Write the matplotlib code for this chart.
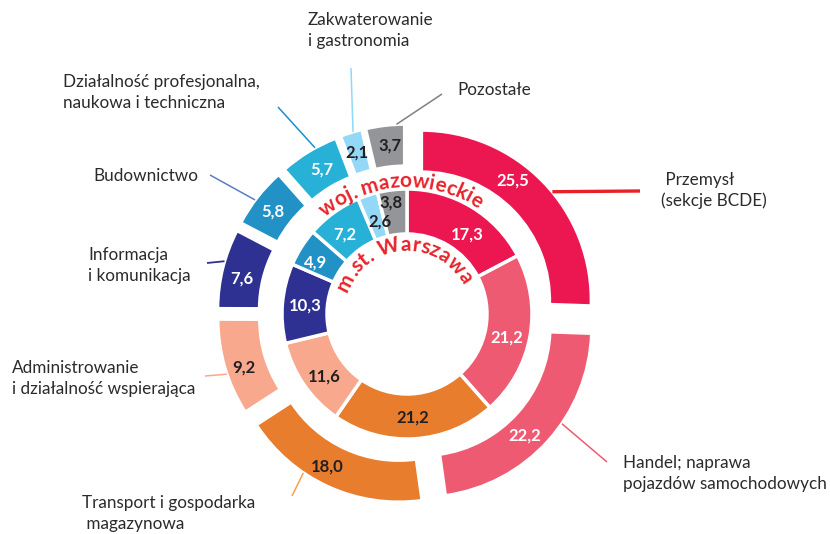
import numpy as np
import matplotlib
matplotlib.use('Agg')
from matplotlib import pyplot as plt
from matplotlib.font_manager import FontProperties
from matplotlib.textpath import TextToPath

# dane: udzial sekcji (%) - zewnetrzny pierscien woj. mazowieckie, wewnetrzny m.st. Warszawa
categories = ['Przemysł\n(sekcje BCDE)', 'Handel; naprawa\npojazdów samochodowych',
              'Transport i gospodarka\n magazynowa', 'Administrowanie\ni działalność wspierająca',
              'Informacja\ni komunikacja', 'Budownictwo',
              'Działalność profesjonalna,\nnaukowa i techniczna', 'Zakwaterowanie\ni gastronomia',
              'Pozostałe']
mazowieckie = [25.5, 22.2, 18.0, 9.2, 7.6, 5.8, 5.7, 2.1, 3.7]
warszawa = [17.3, 21.2, 21.2, 11.6, 10.3, 4.9, 7.2, 2.6, 3.8]

colors = ['#EC1751', '#EF5A73', '#E77D2D', '#F8A98D', '#2E3192',
          '#2191C6', '#27B1D7', '#93D9F7', '#939598']
dark_text = [False, False, True, True, False, False, False, True, True]
line_colors = ['#E8202A', '#EF5A73', '#F4A04E', '#F8A98D', '#2E3192',
               '#5B7EC2', '#1A8FD0', '#8ED8F8', '#808080']

W, H = 830, 534
cx, cy = 407, H - 314

fig = plt.figure(figsize=(W / 100, H / 100), dpi=100)
ax = fig.add_axes([0, 0, 1, 1])

# pierscien zewnetrzny (rozsuniety) i wewnetrzny
outer, _ = ax.pie(mazowieckie, radius=170, center=(cx, cy), startangle=90, counterclock=False,
                  explode=[20] * len(mazowieckie), colors=colors,
                  wedgeprops=dict(width=42, edgecolor='white', linewidth=2.5))
inner, _ = ax.pie(warszawa, radius=125, center=(cx, cy), startangle=90, counterclock=False,
                  colors=colors, wedgeprops=dict(width=45, edgecolor='white', linewidth=2.5))
ax.set_xlim(0, W)
ax.set_ylim(0, H)
ax.set_aspect('equal')
ax.axis('off')

num_font = dict(family='Lato', weight='bold', fontsize=12)

# przesuniecia etykiet liczbowych (stopnie, piksele)
outer_da = [8.6, -4.5, -3.4, 2.1, 1.9, 0.7, -0.7, 0, -1.1]
outer_dr = [2, 0, 3, 3, 0, 0, -1, 0, 0]
inner_da = [-6.1, -3.1, 0, 2.6, 0, 2.9, 2.1, -2, 1.6]
inner_dr = [-3, 0, 1, 1, 0, 2, -2, -6, 10]


def fmt(v):
    return ('%.1f' % v).replace('.', ',')


def put_values(wedges, vals, da, dr):
    for i, (wd, v) in enumerate(zip(wedges, vals)):
        a = np.radians((wd.theta1 + wd.theta2) / 2 + da[i])
        r = wd.r - wd.width / 2 + dr[i]
        x = wd.center[0] + r * np.cos(a)
        y = wd.center[1] + r * np.sin(a)
        ax.text(x, y, fmt(v), ha='center', va='center',
                color='#231F20' if dark_text[i] else 'white', **num_font)


put_values(outer, mazowieckie, outer_da, outer_dr)
put_values(inner, warszawa, inner_da, inner_dr)

# linie odniesienia i opisy (wspolrzedne obrazu: x, y od gory)
lead_offset = [-4.4, 7.5, -9.6, 2.3, -2.5, 1.3, -2.5, -0.7, -3.9]
lead_end = [(640, 191), (607, 462), (292, 496), (205, 376), (207, 263),
            (210, 175), (278, 107), (351, 68), (442, 94)]
lead_width = [2.4, 1.1, 1.1, 1.1, 1.3, 1.1, 1.1, 1.1, 1.1]
label_pos = [(661, 190.5), (623, 473.5), (82, 513.5), (12, 378.5), (88, 265.5),
             (93, 176), (63, 92.5), (308, 30.5), (457, 90)]

for i, wd in enumerate(outer):
    a = np.radians((wd.theta1 + wd.theta2) / 2 + lead_offset[i])
    x0 = wd.center[0] + wd.r * np.cos(a)
    y0 = wd.center[1] + wd.r * np.sin(a)
    ex, ey = lead_end[i]
    ax.plot([x0, ex], [y0, H - ey], color=line_colors[i], lw=lead_width[i], solid_capstyle='butt')
    lx, ly = label_pos[i]
    lab = categories[i]
    if i == 0:
        lab = ' ' + lab
    ax.text(lx, H - ly, lab, ha='left', va='center', color='#2B2B2B', family='Lato',
            fontsize=12.3, linespacing=1.35)

# napisy po luku
t2p = TextToPath()


def tw(s, fp):
    return t2p.get_text_width_height_descent(s, fp, ismath=False)[0] * 100 / 72


def arc_text(s, r, mid, fp, color):
    widths = [tw('n' + s[:i + 1] + 'n', fp) - tw('n' + s[:i] + 'n', fp) for i in range(len(s))]
    a = mid + np.degrees(sum(widths) / r) / 2
    for c, w in zip(s, widths):
        da = np.degrees(w / r)
        ang = a - da / 2
        x = cx + r * np.cos(np.radians(ang))
        y = cy + r * np.sin(np.radians(ang))
        ax.text(x, y, c, rotation=ang - 90, rotation_mode='anchor', ha='center', va='baseline',
                color=color, fontproperties=fp)
        a -= da


fp_arc = FontProperties(family='Lato', weight='bold', size=15)
arc_text('woj. mazowieckie', 127, 93, fp_arc, '#E8242B')
arc_text('m.st. Warszawa', 63, 94, fp_arc, '#E8242B')

fig.savefig('out.png', dpi=100)
